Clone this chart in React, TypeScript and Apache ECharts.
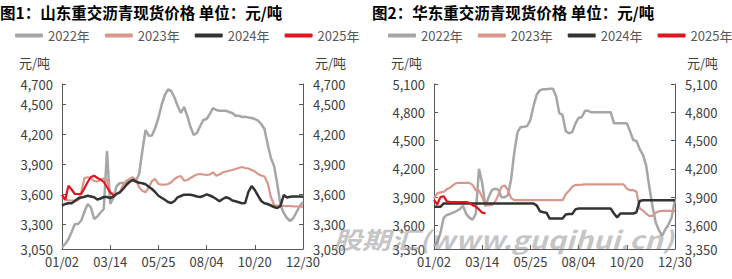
import React, { useEffect, useRef } from 'react';
import * as echarts from 'echarts';

// ---- Data ----
const xLabels = ['01/02', '03/14', '05/25', '08/04', '10/20', '12/30'];
const seriesNames = ['2022年', '2023年', '2024年', '2025年'];
const yTicks1 = [3050, 3300, 3600, 3900, 4200, 4500, 4700];
const yTicks2 = [3350, 3600, 3900, 4200, 4500, 4800, 5100];

// 图1 山东
const sd2022 = [3067,3100,3147,3220,3300,3300,3335,3425,3500,3465,
  3350,3375,3415,3450,4030,3500,3560,3680,3710,3710,
  3710,3725,3750,3730,3800,4030,4240,4183,4185,4260,
  4360,4490,4590,4645,4630,4565,4480,4410,4470,4380,
  4270,4190,4210,4280,4340,4350,4400,4460,4440,4433,
  4433,4433,4420,4410,4383,4383,4370,4373,4366,4360,
  4350,4333,4300,4250,4100,3960,3880,3700,3490,3410,
  3360,3330,3360,3420,3480,3520];
const sd2023 = [3580,3550,3535,3535,3535,3537,3620,3760,3767,3755,
  3730,3725,3740,3755,3745,3617,3600,3610,3617,3690,
  3730,3750,3767,3745,3667,3633,3617,3665,3730,3750,
  3700,3693,3693,3700,3717,3750,3770,3780,3733,3740,
  3760,3780,3795,3800,3795,3790,3795,3817,3783,3795,
  3815,3825,3833,3840,3850,3860,3870,3860,3855,3840,
  3827,3800,3785,3775,3710,3570,3490,3483,3483,3480,
  3480,3480,3477,3475,3473,3473];
const sd2024 = [3483,3500,3507,3507,3530,3555,3565,3573,3583,3575,
  3567,3545,3555,3570,3570,3560,3575,3600,3617,3650,
  3690,3720,3740,3725,3712,3707,3697,3673,3650,3620,
  3583,3562,3542,3520,3510,3530,3567,3580,3593,3593,
  3593,3585,3575,3570,3580,3597,3585,3570,3550,3527,
  3550,3567,3557,3535,3527,3517,3507,3510,3620,3680,
  3640,3583,3530,3507,3500,3485,3470,3460,3480,3590,
  3565,3573,3575,3575,3575,3573];
const sd2025 = [3593,3540,3683,3645,3600,3600,3600,3660,3720,3770,
  3783,3760,3745,3720,3670,3615,3590];

// 图2 华东
const hd2022 = [3386,3420,3520,3680,3712,3722,3735,3753,3773,3808,
  3723,3683,3660,3723,4200,4050,3800,3900,3975,3989,
  3980,3900,3900,3920,4090,4380,4590,4645,4645,4655,
  4720,4870,4990,5035,5045,5045,5050,5050,4970,4790,
  4772,4600,4577,4590,4680,4740,4750,4815,4815,4800,
  4800,4800,4800,4800,4800,4800,4684,4684,4684,4684,
  4684,4600,4506,4496,4410,4350,4240,4010,3800,3630,
  3550,3490,3560,3610,3690,3880];
const hd2023 = [3890,3940,3950,3955,3985,4000,4030,4050,4052,4052,
  4052,4052,4030,3971,3971,3900,3815,3815,3815,3850,
  3920,4010,4024,3975,3890,3868,3868,3868,3868,3868,
  3868,3868,3868,3868,3868,3868,3868,3868,3868,3868,
  3868,3930,3967,4010,4028,4030,4032,4035,4035,4035,
  4035,4035,4035,4035,4035,4035,4035,4035,4035,4035,
  3990,3974,3974,3960,3780,3758,3726,3701,3701,3735,
  3750,3755,3755,3755,3755,3755];
const hd2024 = [3797,3797,3797,3833,3833,3833,3833,3833,3833,3833,
  3833,3833,3833,3833,3833,3833,3833,3833,3833,3833,
  3833,3833,3833,3833,3833,3833,3833,3833,3833,3833,
  3833,3833,3810,3750,3740,3735,3673,3673,3673,3673,
  3673,3716,3720,3720,3770,3779,3779,3779,3779,3779,
  3779,3779,3779,3779,3779,3779,3726,3685,3726,3726,
  3726,3726,3726,3740,3860,3868,3868,3868,3868,3868,
  3868,3868,3868,3868,3868,3868];
const hd2025 = [3870,3822,3900,3910,3855,3847,3847,3847,3847,3847,
  3847,3840,3815,3800,3770,3735,3730];

const LABEL_STEP = 15;
const categories = Array.from({ length: sd2022.length }, (_, i) =>
  i % LABEL_STEP === 0 ? xLabels[i / LABEL_STEP] : String(i)
);

const colors = ['#A6A6A6', '#D9968A', '#333333', '#E3141C'];
const widths = [2.5, 2.2, 2.5, 2.2];

const FONT = "'Noto Sans CJK SC', 'Noto Sans', sans-serif";
const textColor = '#404040';
const axisColor = '#595959';

const fmt = (v: number) => String(v).replace(/\B(?=(\d{3})+(?!\d))/g, ',');

function yAxis(gridIndex: number, min: number, max: number, ticks: number[], position: 'left' | 'right') {
  const left = position === 'left';
  return {
    type: 'value', gridIndex, min, max, position,
    name: '元/吨',
    nameLocation: 'end',
    nameGap: 15,
    nameTextStyle: {
      color: textColor, fontSize: 13, fontFamily: FONT,
      align: left ? 'right' : 'left',
      padding: left ? [0, 12, 0, 0] : [0, 0, 0, 12],
    },
    axisLine: { show: true, lineStyle: { color: axisColor, width: 1 } },
    axisTick: { show: true, inside: true, length: 4, customValues: ticks, lineStyle: { color: axisColor } },
    axisLabel: { customValues: ticks, color: textColor, fontSize: 13, fontFamily: FONT, margin: left ? 9 : 10, formatter: (v: number) => fmt(v) },
    splitLine: { show: false },
  };
}

function xAxis(gridIndex: number) {
  return {
    type: 'category', gridIndex, data: categories, boundaryGap: false,
    axisLine: { lineStyle: { color: axisColor, width: 1 } },
    axisTick: { inside: true, length: 4, interval: LABEL_STEP - 1, lineStyle: { color: axisColor } },
    axisLabel: { interval: LABEL_STEP - 1, color: textColor, fontSize: 13, fontFamily: FONT, margin: 6 },
    splitLine: { show: false },
  };
}

function lines(datas: number[][], xAxisIndex: number, yAxisIndex: number) {
  return datas.map((d, k) => ({
    type: 'line', name: seriesNames[k], xAxisIndex, yAxisIndex, data: d,
    showSymbol: false, symbol: 'none',
    lineStyle: { color: colors[k], width: widths[k] },
    itemStyle: { color: colors[k] },
    z: 2 + k,
  }));
}

function legend(left: number) {
  return {
    left, top: 29, width: 350, padding: 0, itemWidth: 28, itemHeight: 4, itemGap: 15,
    icon: 'roundRect',
    textStyle: { fontSize: 13, color: '#595959', fontFamily: FONT },
    data: seriesNames,
  };
}

export default function App() {
  const ref = useRef<HTMLDivElement>(null);
  useEffect(() => {
    document.body.style.margin = '0';
    const chart = echarts.init(ref.current!, null, { renderer: 'svg' });
    chart.setOption({
      animation: false,
      backgroundColor: '#ffffff',
      textStyle: { fontFamily: FONT },
      title: [
        { text: '图1：山东重交沥青现货价格 单位：元/吨', left: 0, top: 4, padding: 0,
          textStyle: { fontSize: 15.5, fontWeight: 'bold', color: '#000', fontFamily: FONT } },
        { text: '图2：华东重交沥青现货价格 单位：元/吨', left: 372, top: 4, padding: 0,
          textStyle: { fontSize: 15.5, fontWeight: 'bold', color: '#000', fontFamily: FONT } },
      ],
      legend: [legend(15), legend(388)],
      grid: [
        { left: 62, right: 429, top: 84, bottom: 30, containLabel: false },
        { left: 434, right: 57, top: 84, bottom: 30, containLabel: false },
      ],
      xAxis: [xAxis(0), xAxis(1)],
      yAxis: [
        yAxis(0, 3050, 4700, yTicks1, 'left'),
        yAxis(0, 3050, 4700, yTicks1, 'right'),
        yAxis(1, 3350, 5100, yTicks2, 'left'),
        yAxis(1, 3350, 5100, yTicks2, 'right'),
      ],
      series: [
        ...lines([sd2022, sd2023, sd2024, sd2025], 0, 0),
        ...lines([hd2022, hd2023, hd2024, hd2025], 1, 2),
      ],
      graphic: [
        { type: 'text', x: 333, y: 227, scaleX: 1.2, z: 100, silent: true,
          style: { text: '股期汇(www.guqihui.cn)', font: `italic bold 24px ${FONT}`, fill: 'rgba(140,140,140,0.5)', textVerticalAlign: 'top' } },
      ],
    });
    return () => chart.dispose();
  }, []);
  return <div ref={ref} style={{ position: 'absolute', left: 0, top: 0, width: 732, height: 279 }} />;
}
